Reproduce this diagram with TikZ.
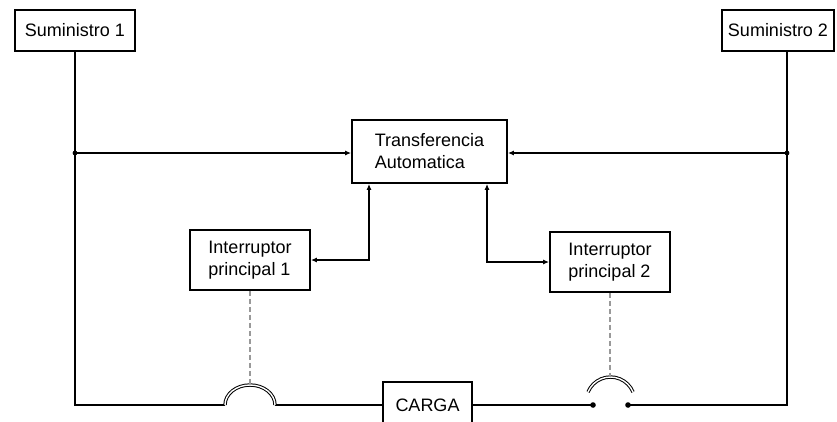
\documentclass[tikz,border=0pt]{standalone}
\usepackage{fontspec}
\setmainfont{Liberation Sans}
\usetikzlibrary{arrows.meta}

\begin{document}
\begin{tikzpicture}[
    % GLOBAL CFG
    x=1pt, y=-1pt,
    font=\fontsize{18}{22}\selectfont,
    >={Latex[length=6pt,width=5pt]},
    % Styles
    block/.style={
        rectangle,
        draw,
        line width=1.8pt,
        align=left,
        inner sep=2pt,
    },
    wire/.style={
        line width=1.7pt,
    },
    contact/.style={
        draw=black,
        double=white,
        double distance=1.4pt,
        line width=1pt,
    },
    link/.style={
        gray!80,
        dashed,
        dash pattern=on 5pt off 3pt,
        line width=1.5pt,
    },
]

% Frame
    \useasboundingbox[fill=white] (0,0) rectangle (837,421);

% Draw the blocks
    \node [block, minimum width=120, minimum height=41] (sum1) at (75,30.5) {Suministro 1};
    \node [block, minimum width=112, minimum height=41] (sum2) at (778,30.5) {Suministro 2};
    \node [block, minimum width=155, minimum height=63] (ata) at (429.5,151.5) {Transferencia\\Automatica};
    \node [block, minimum width=120, minimum height=60] (int1) at (250,260) {Interruptor\\principal 1};
    \node [block, minimum width=120, minimum height=60] (int2) at (610,262) {Interruptor\\principal 2};
    \node [block, minimum width=89, minimum height=46] (carga) at (427.5,405) {CARGA};

% Points on the lines
    \coordinate (jl) at (75,153);
    \coordinate (jr) at (787,153);
    \coordinate (bl) at (75,405);
    \coordinate (br) at (787,405);
    \coordinate (s1a) at (225,405);
    \coordinate (s1b) at (275,405);
    \coordinate (s1t) at (250,385);
    \coordinate (s2a) at (593,405);
    \coordinate (s2b) at (628,405);
    \coordinate (s2l) at (588,392);
    \coordinate (s2t) at (610,377);

% Supply lines
    \draw [wire] (sum1.south -| jl) -- (bl) -- (s1a);
    \draw [wire] (s1b) -- (carga.west);
    \draw [wire] (carga.east) -- (s2a);
    \draw [wire] (s2b) -- (br) -- (sum2.south -| jr);

    % Sensing lines to the transfer unit
    \draw [wire, ->] (jl) -- (jl -| ata.west);
    \draw [wire, ->] (jr) -- (jr -| ata.east);
    \fill (jl) circle (2.4);
    \fill (jr) circle (2.4);

    % Control of the breakers
    \draw [wire, <->] (int1.east) -| ([xshift=-60.5pt]ata.south);
    \draw [wire, <->] (int2.west) -| ([xshift=57.5pt]ata.south);

% Switches
    \draw [contact] (s1a) arc [start angle=180, end angle=360, x radius=25, y radius=20];
    \draw [contact] (s2l) arc [start angle=202.7, end angle=337.3, radius=24.4];
    \fill (s2a) circle (2.8);
    \fill (s2b) circle (2.8);

    % Mechanical links
    \draw [link] (int1.south) -- (int1.south |- s1t);
    \draw [link] (int2.south) -- (int2.south |- s2t);

\end{tikzpicture}
\end{document}
